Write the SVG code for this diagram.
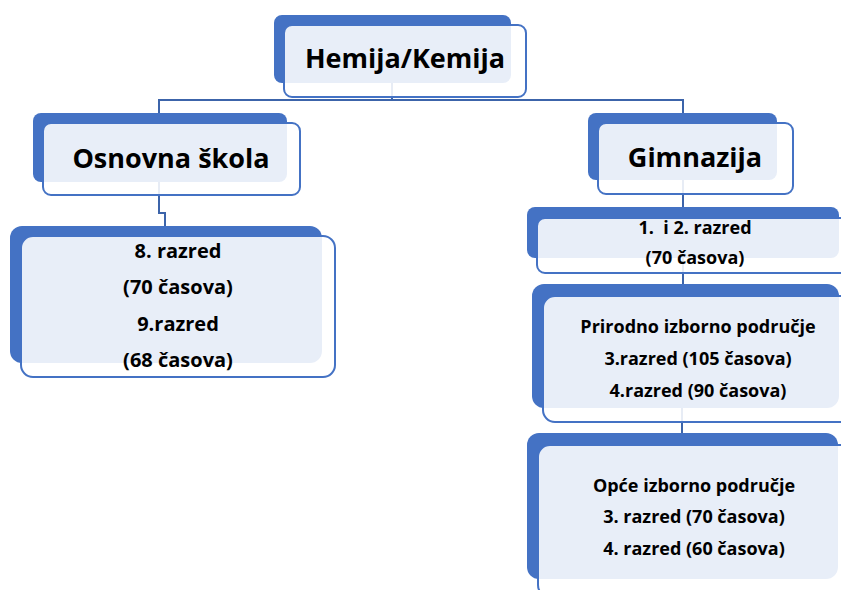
<svg xmlns="http://www.w3.org/2000/svg" width="841" height="590" viewBox="0 0 841 590">
<style>
.back{fill:#4472C4;}
.front{fill:#FFFFFF;fill-opacity:0.88;stroke:#4472C4;stroke-width:2;}
.conn{fill:none;stroke:#3C64AA;stroke-width:2;}
text{font-family:"Open Sans","Noto Sans","Liberation Sans",sans-serif;font-weight:bold;fill:#000;text-anchor:middle;}
.big{font-size:27px;}
.mid{font-size:20px;}
.sm{font-size:18px;}
</style>
<rect width="841" height="590" fill="#FFFFFF"/>
<g id="connectors">
<path class="conn" d="M392,83 V100"/>
<path class="conn" d="M159,113 V100 H683 V113"/>
<path class="conn" d="M159,182 V213 H165 V226"/>
<path class="conn" d="M683,180 V207"/>
<path class="conn" d="M683,257 V284"/>
<path class="conn" d="M682,407 V433"/>
</g>
<g id="node-hemija">
<rect class="back" x="274" y="15" width="237" height="68" rx="8"/>
<rect class="front" x="284" y="25" width="242" height="72" rx="8"/>
<text class="big" x="405" y="68">Hemija/Kemija</text>
</g>
<g id="node-osnovna">
<rect class="back" x="33" y="113" width="254" height="69" rx="8"/>
<rect class="front" x="43" y="123" width="257" height="72" rx="8"/>
<text class="big" x="171" y="168">Osnovna škola</text>
</g>
<g id="node-gimnazija">
<rect class="back" x="588" y="113" width="189" height="67" rx="8"/>
<rect class="front" x="598" y="123" width="195" height="71" rx="8"/>
<text class="big" x="695" y="167">Gimnazija</text>
</g>
<g id="node-osnovna-razredi">
<rect class="back" x="10" y="226" width="312" height="137" rx="12"/>
<rect class="front" x="21" y="236" width="314" height="141" rx="12"/>
<text class="mid" x="178" y="258">8. razred</text>
<text class="mid" x="178" y="294">(70 časova)</text>
<text class="mid" x="178" y="331">9.razred</text>
<text class="mid" x="178" y="367">(68 časova)</text>
</g>
<g id="node-gim-1-2">
<rect class="back" x="527" y="207" width="312" height="51" rx="8"/>
<rect class="front" x="537" y="218" width="320" height="55" rx="8"/>
<text class="sm" x="695" y="234" xml:space="preserve">1.  i 2. razred</text>
<text class="sm" x="695" y="264">(70 časova)</text>
</g>
<g id="node-prirodno">
<rect class="back" x="532" y="284" width="307" height="124" rx="12"/>
<rect class="front" x="543" y="296" width="320" height="126" rx="12"/>
<text class="sm" x="698" y="333">Prirodno izborno područje</text>
<text class="sm" x="698" y="365">3.razred (105 časova)</text>
<text class="sm" x="698" y="397">4.razred (90 časova)</text>
</g>
<g id="node-opce">
<rect class="back" x="527" y="433" width="311" height="146" rx="12"/>
<rect class="front" x="538" y="445" width="320" height="152" rx="12"/>
<text class="sm" x="694" y="492">Opće izborno područje</text>
<text class="sm" x="694" y="523">3. razred (70 časova)</text>
<text class="sm" x="694" y="555">4. razred (60 časova)</text>
</g>
</svg>
